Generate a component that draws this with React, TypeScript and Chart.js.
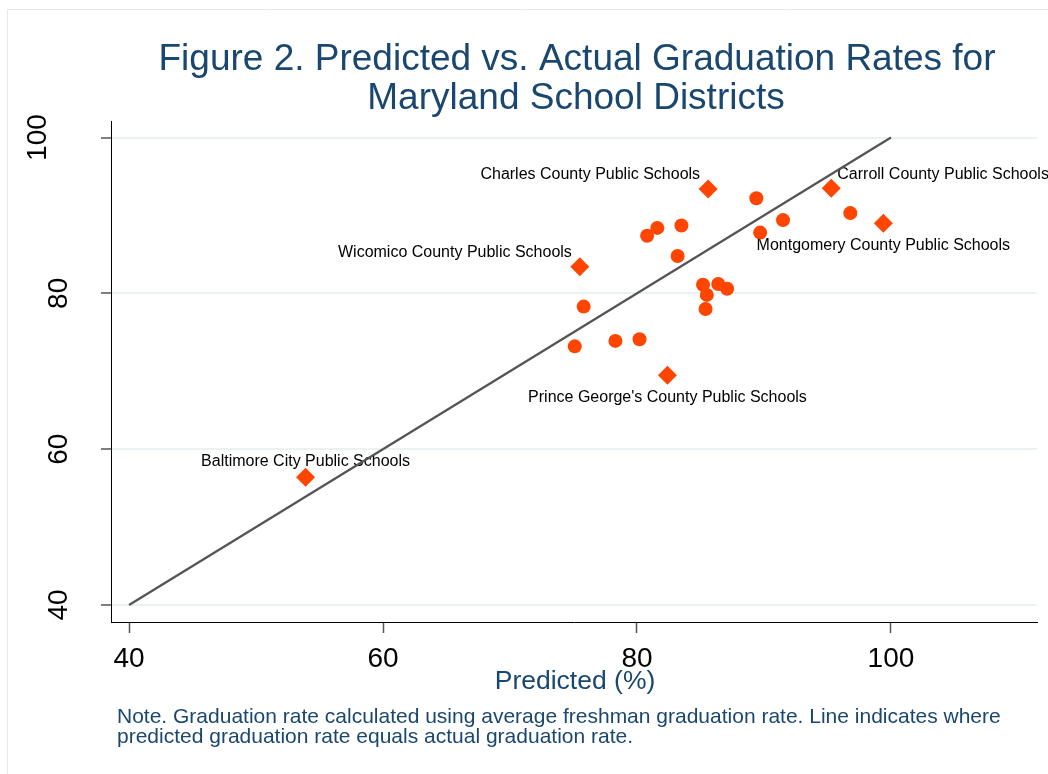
import React, { useEffect, useRef } from "react";
import { Chart, registerables } from "chart.js";

Chart.register(...registerables);

// ---- Data ----
const titleLines = ["Figure 2. Predicted vs. Actual Graduation Rates for", "Maryland School Districts"];
const xAxisTitle = "Predicted (%)";
const noteLines = [
  "Note. Graduation rate calculated using average freshman graduation rate. Line indicates where",
  "predicted graduation rate equals actual graduation rate.",
];
const xTicks = [40, 60, 80, 100];
const yTicks = [40, 60, 80, 100];

// unlabeled districts (circles)
const otherPredicted = [89.4, 96.8, 91.5, 89.7, 83.5, 81.6, 80.8, 83.2, 85.2, 86.4, 87.1, 85.5, 85.4, 75.8, 75.1, 78.3, 80.2];
const otherActual = [92.2, 90.3, 89.4, 87.8, 88.7, 88.4, 87.4, 84.8, 81.1, 81.2, 80.6, 79.8, 78.0, 78.3, 73.2, 73.9, 74.1];

// labeled districts (diamonds)
const labeledNames = [
  "Charles County Public Schools",
  "Carroll County Public Schools",
  "Montgomery County Public Schools",
  "Wicomico County Public Schools",
  "Prince George's County Public Schools",
  "Baltimore City Public Schools",
];
const labeledPredicted = [85.6, 95.3, 99.4, 75.5, 82.4, 53.9];
const labeledActual = [93.4, 93.5, 89.0, 83.4, 69.5, 56.4];
// clock position of each label relative to its marker
const labeledClock = [10, 2, 6, 10, 6, 12];

// equality line endpoints
const lineX = [40, 100];
const lineY = [40, 100];

const BLUE = "#1a476f";
const ORANGE = "#ff4500";
const FONT = "'Liberation Sans', Arial, Helvetica, sans-serif";

const decorPlugin = {
  id: "decor",
  beforeDraw(chart: any) {
    const { ctx, width, height } = chart;
    ctx.save();
    ctx.fillStyle = "#ffffff";
    ctx.fillRect(0, 0, width, height);
    ctx.strokeStyle = "#e6e9eb";
    ctx.lineWidth = 1;
    ctx.beginPath();
    ctx.moveTo(7.5, height);
    ctx.lineTo(7.5, 9.5);
    ctx.lineTo(width, 9.5);
    ctx.stroke();
    ctx.restore();
  },
  beforeDatasetsDraw(chart: any) {
    const { ctx } = chart;
    const meta = chart.getDatasetMeta(2);
    ctx.save();
    ctx.fillStyle = "#000";
    ctx.font = `16px ${FONT}`;
    ctx.textBaseline = "middle";
    meta.data.forEach((pt: any, i: number) => {
      const x = pt.x;
      const y = pt.y;
      const c = labeledClock[i];
      if (c === 10) {
        ctx.textAlign = "right";
        ctx.fillText(labeledNames[i], x - 8, y - 14);
      } else if (c === 2) {
        ctx.textAlign = "left";
        ctx.fillText(labeledNames[i], x + 6, y - 14);
      } else if (c === 6) {
        ctx.textAlign = "center";
        ctx.fillText(labeledNames[i], x, y + 22);
      } else {
        ctx.textAlign = "center";
        ctx.fillText(labeledNames[i], x, y - 16);
      }
    });
    ctx.restore();
  },
  afterDraw(chart: any) {
    const { ctx } = chart;
    const xs = chart.scales.x;
    const ys = chart.scales.y;
    ctx.save();
    // title
    ctx.fillStyle = BLUE;
    ctx.font = `37px ${FONT}`;
    ctx.textAlign = "center";
    ctx.textBaseline = "alphabetic";
    ctx.fillText(titleLines[0], 577, 70);
    ctx.fillText(titleLines[1], 576, 109);

    // x tick labels
    ctx.fillStyle = "#000";
    ctx.font = `28px ${FONT}`;
    xTicks.forEach((v) => {
      ctx.fillText(String(v), xs.getPixelForValue(v), 667);
    });

    // y tick labels (rotated)
    yTicks.forEach((v) => {
      const py = ys.getPixelForValue(v);
      const s = String(v);
      const bx = s.length > 2 ? 46 : 67;
      ctx.save();
      ctx.translate(bx, py);
      ctx.rotate(-Math.PI / 2);
      ctx.textAlign = "center";
      ctx.fillText(s, 0, 0);
      ctx.restore();
    });

    // x title
    ctx.fillStyle = BLUE;
    ctx.font = `26.5px ${FONT}`;
    ctx.textAlign = "center";
    ctx.fillText(xAxisTitle, 575, 689);

    // note
    ctx.font = `21px ${FONT}`;
    ctx.textAlign = "left";
    ctx.fillText(noteLines[0], 117, 723);
    ctx.fillText(noteLines[1], 117, 743);
    ctx.restore();
  },
};

export default function App() {
  const ref = useRef<HTMLCanvasElement | null>(null);
  useEffect(() => {
    document.body.style.margin = "0";
    const canvas = ref.current;
    if (!canvas) return;
    const chart = new Chart(canvas, {
      type: "scatter",
      data: {
        datasets: [
          {
            label: "Equality",
            data: lineX.map((x, i) => ({ x, y: lineY[i] })),
            showLine: true,
            borderColor: "#555555",
            borderWidth: 2.3,
            pointRadius: 0,
            fill: false,
          },
          {
            label: "Districts",
            data: otherPredicted.map((x, i) => ({ x, y: otherActual[i] })),
            pointStyle: "circle",
            pointRadius: 7,
            backgroundColor: ORANGE,
            borderColor: ORANGE,
            borderWidth: 0,
          },
          {
            label: "Labeled districts",
            data: labeledPredicted.map((x, i) => ({ x, y: labeledActual[i] })),
            pointStyle: "rectRot",
            pointRadius: 9.5,
            backgroundColor: ORANGE,
            borderColor: ORANGE,
            borderWidth: 0,
          },
        ],
      },
      options: {
        responsive: false,
        animation: false,
        layout: { padding: { left: 0, right: 11, top: 121, bottom: 0 } },
        plugins: {
          legend: { display: false },
          tooltip: { enabled: false },
          title: { display: false },
        },
        scales: {
          x: {
            type: "linear",
            min: 38.58,
            max: 111.5,
            afterBuildTicks: (s: any) => {
              s.ticks = xTicks.map((value) => ({ value }));
            },
            afterFit: (s: any) => {
              s.height = 774 - 622;
            },
            ticks: { display: false },
            grid: {
              drawOnChartArea: false,
              drawTicks: true,
              tickLength: 11,
              tickColor: "#555555",
              tickWidth: 1.5,
            },
            border: { display: true, color: "#000000", width: 1 },
          },
          y: {
            type: "linear",
            min: 37.82,
            max: 102.12,
            afterBuildTicks: (s: any) => {
              s.ticks = yTicks.map((value) => ({ value }));
            },
            afterFit: (s: any) => {
              s.width = 111;
            },
            ticks: { display: false },
            grid: {
              drawOnChartArea: true,
              color: "#eaf2f3",
              lineWidth: 2,
              drawTicks: true,
              tickLength: 10,
              tickColor: "#555555",
              tickWidth: 1.5,
            },
            border: { display: true, color: "#000000", width: 1 },
          },
        },
      },
      plugins: [decorPlugin],
    });
    return () => chart.destroy();
  }, []);
  return <canvas ref={ref} width={1048} height={774} style={{ display: "block" }} />;
}
